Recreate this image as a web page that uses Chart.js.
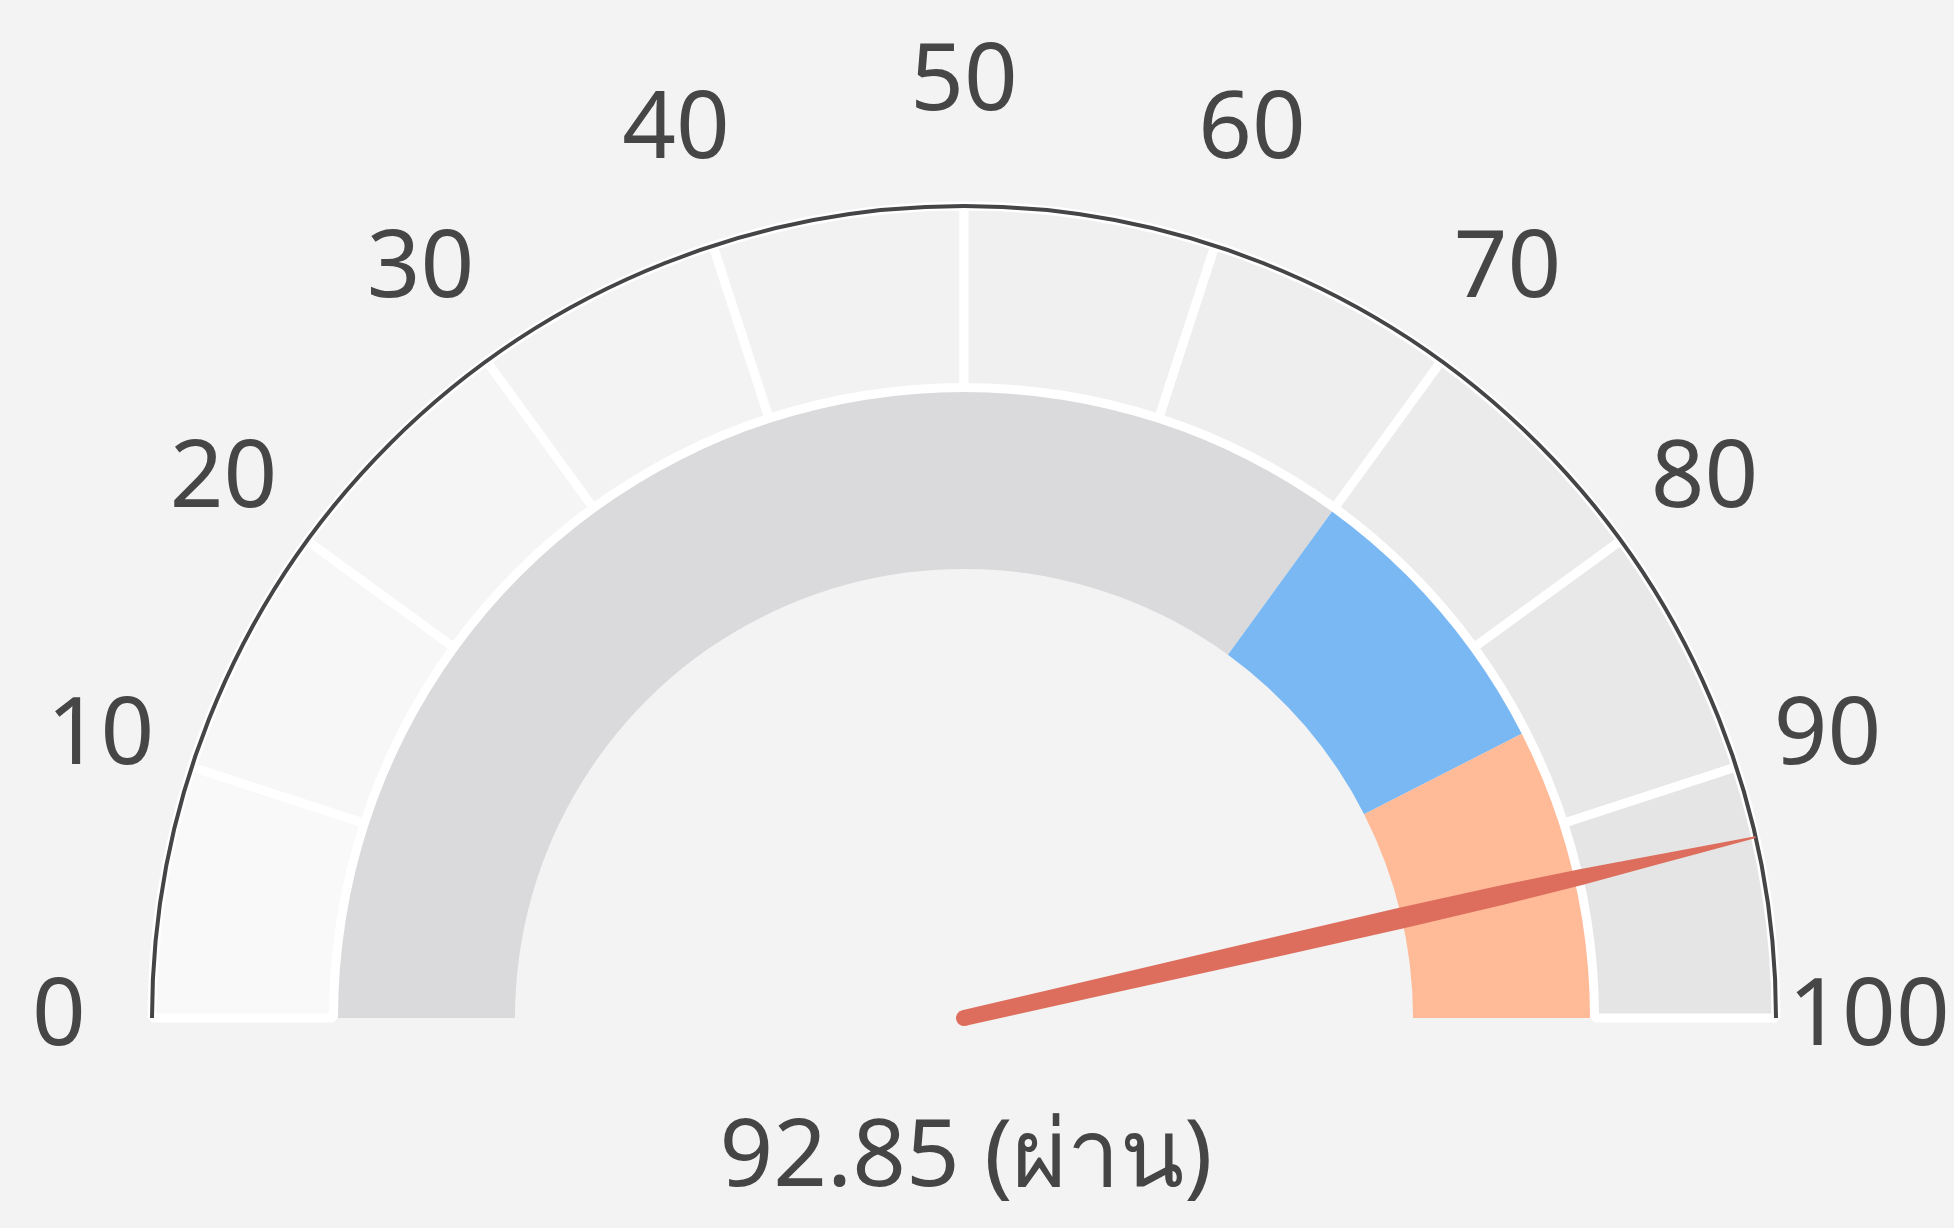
<!DOCTYPE html>
<html>
<head>
<meta charset="utf-8">
<script src="https://cdn.jsdelivr.net/npm/chart.js@4.4.1/dist/chart.umd.min.js"></script>
<style>
  html, body { margin: 0; padding: 0; background: #f3f3f3; }
  #wrap { width: 1954px; height: 1228px; }
</style>
</head>
<body>
<div id="wrap"><canvas id="gauge"></canvas></div>
<script>
// scale ticks around the gauge
const tickLabels = ['0', '10', '20', '30', '40', '50', '60', '70', '80', '90', '100'];
// outer ring: ten equal bands of the 0-100 scale
const scaleBands = [10, 10, 10, 10, 10, 10, 10, 10, 10, 10];
const bandColors = ['#f9f9f9', '#f7f7f7', '#f5f5f5', '#f3f3f3', '#f2f2f2',
                    '#f0f0f0', '#eeeeee', '#ebebeb', '#e8e8e9', '#e5e5e6'];
// inner ring: zones (0-70 grey, 70-85 blue, 85-100 orange)
const zoneValues = [70, 15, 15];
const zoneColors = ['#dadadc', '#7ab8f4', '#ffba98'];
// needle value and caption
const score = 92.85;
const scoreText = '92.85 (ผ่าน)';

const gaugeOverlay = {
  id: 'gaugeOverlay',
  afterDatasetsDraw(chart) {
    const ctx = chart.ctx;
    const arc = chart.getDatasetMeta(0).data[0];
    const cx = arc.x, cy = arc.y, r = arc.outerRadius;

    // thin dark rim
    ctx.save();
    ctx.strokeStyle = '#454547';
    ctx.lineWidth = 4;
    ctx.beginPath();
    ctx.arc(cx, cy, r, Math.PI, 2 * Math.PI);
    ctx.stroke();

    // tick labels
    ctx.fillStyle = '#464646';
    ctx.font = '94px "Noto Sans", sans-serif';
    ctx.textAlign = 'center';
    ctx.textBaseline = 'middle';
    tickLabels.forEach(t => {
      const a = Math.PI + (Number(t) / 100) * Math.PI;
      const s = Math.sin(a);
      const labelR = r + 93 + 30 * s * s;
      ctx.fillText(t, cx + labelR * Math.cos(a), cy + labelR * s);
    });
    ctx.restore();

    // needle: slightly swelling, thin tip
    const a = Math.PI + (score / 100) * Math.PI;
    const L = r;
    const shape = [[0, 8], [0.2, 8.8], [0.4, 10], [0.55, 10.6], [0.68, 9.8],
                   [0.78, 8], [0.87, 5], [0.94, 2.8], [1, 1]];
    ctx.save();
    ctx.translate(cx, cy);
    ctx.rotate(a);
    ctx.fillStyle = '#dd6e5d';
    ctx.beginPath();
    shape.forEach(([f, w], i) => {
      if (i === 0) ctx.moveTo(f * L, -w); else ctx.lineTo(f * L, -w);
    });
    for (let i = shape.length - 1; i >= 0; i--) {
      ctx.lineTo(shape[i][0] * L, shape[i][1]);
    }
    ctx.closePath();
    ctx.fill();
    ctx.beginPath();
    ctx.arc(0, 0, 8, 0, 2 * Math.PI);
    ctx.fill();
    ctx.restore();

    // caption
    ctx.save();
    ctx.fillStyle = '#454545';
    ctx.font = '94px "Noto Sans", sans-serif';
    ctx.textAlign = 'center';
    ctx.textBaseline = 'middle';
    ctx.fillText(scoreText, cx + 2, cy + 141);
    ctx.restore();
  }
};

new Chart(document.getElementById('gauge'), {
  type: 'doughnut',
  data: {
    labels: tickLabels.slice(1),
    datasets: [{
      data: scaleBands,
      backgroundColor: bandColors,
      borderColor: '#ffffff',
      borderWidth: 9
    }, {
      data: zoneValues,
      backgroundColor: zoneColors,
      borderWidth: 0
    }]
  },
  options: {
    responsive: true,
    maintainAspectRatio: false,
    animation: false,
    rotation: -90,
    circumference: 180,
    radius: 812,
    cutout: '55.3%',
    layout: { padding: { top: 98, bottom: 102, left: 0, right: 26 } },
    plugins: {
      legend: { display: false },
      tooltip: { enabled: false }
    }
  },
  plugins: [gaugeOverlay]
});
</script>
</body>
</html>
